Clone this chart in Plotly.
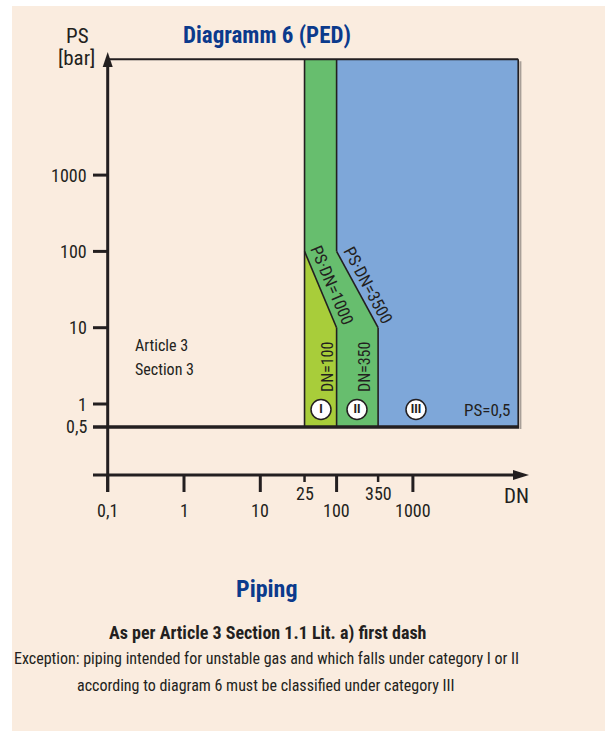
import numpy as np
import plotly.graph_objects as go

# ---------------- data ----------------
# DN axis (log scale). In the schematic the DN 25 limit is drawn off-scale, at about DN 38.
dn_tick_values = [0.1, 1, 10, 100, 1000]
dn_tick_labels = ["0,1", "1", "10", "100", "1000"]
dn_limit_values = [38, 350]          # drawn positions of the limits
dn_limit_labels = ["25", "350"]

ps_tick_values = [1, 10, 100, 1000]
ps_tick_labels = ["1", "10", "100", "1000"]
ps_min = 0.5
ps_min_label = "0,5"

dn_cat_left = 38      # limit labelled DN 25
dn_cat_I_II = 100     # DN = 100
dn_cat_II_III = 350   # DN = 350
dn_right = 24000      # right edge of the diagram
ps_top = 33000        # top edge of the diagram

# PS·DN boundary lines (DN, PS) as drawn
ps_dn_1000_dn = [38, 100]
ps_dn_1000_ps = [100, 10]
ps_dn_3500_dn = [100, 350]
ps_dn_3500_ps = [100, 10]

# ---------------- styling / geometry helpers ----------------
W, H = 605, 731
X0PX, DEC = 107.7, 76.3     # pixel of DN=0.1, pixels per decade
Y0PX = 404.0                # pixel of PS=1

def lx(p):   # pixel x -> log10 DN
    return (p - X0PX) / DEC - 1

def ly(p):   # pixel y -> log10 PS
    return (Y0PX - p) / DEC

L = np.log10
BEIGE = "#FAECDF"
BLUE = "#7EA7D9"
GREEN = "#67BE6E"
YELLOW = "#A8CD3A"
INK = "#231F20"
NAVY = "#0B3A8C"
FONT = "Liberation Sans Narrow, Roboto Condensed, DejaVu Sans Condensed, Arial Narrow, sans-serif"

A, B, C = L(dn_cat_left), L(dn_cat_I_II), L(dn_cat_II_III)
R, T, M = L(dn_right), L(ps_top), L(ps_min)
p1000 = L(np.array(ps_dn_1000_ps))
d1000 = L(np.array(ps_dn_1000_dn))
p3500 = L(np.array(ps_dn_3500_ps))
d3500 = L(np.array(ps_dn_3500_dn))

fig = go.Figure()

# Category III (blue)
fig.add_trace(go.Scatter(
    x=[B, R, R, C, d3500[1], d3500[0], B],
    y=[T, T, M, M, p3500[1], p3500[0], T],
    fill="toself", fillcolor=BLUE, mode="none", hoverinfo="skip"))
# Category II (green)
fig.add_trace(go.Scatter(
    x=[A, B, d3500[0], d3500[1], C, B, d1000[1], d1000[0], A],
    y=[T, T, p3500[0], p3500[1], M, M, p1000[1], p1000[0], T],
    fill="toself", fillcolor=GREEN, mode="none", hoverinfo="skip"))
# Category I (yellow-green)
fig.add_trace(go.Scatter(
    x=[d1000[0], d1000[1], B, A, d1000[0]],
    y=[p1000[0], p1000[1], M, M, p1000[0]],
    fill="toself", fillcolor=YELLOW, mode="none", hoverinfo="skip"))

def seg(x0, y0, x1, y1, w, color=INK):
    fig.add_shape(type="line", x0=x0, y0=y0, x1=x1, y1=y1, xref="x", yref="y",
                  line=dict(color=color, width=w))

# shadow of the blue box
seg(R + 2.2 / DEC, T - 2 / DEC, R + 2.2 / DEC, M - 2 / DEC, 2, "#A89F98")
# outlines
seg(lx(X0PX), T, R, T, 2.2)
seg(R, T, R, M, 1.6)
seg(A, T, A, M, 1.6)
seg(B, T, B, p3500[0], 1.6)
seg(B, p1000[1], B, M, 1.6)
seg(C, p3500[1], C, M, 1.6)
seg(d1000[0], p1000[0], d1000[1], p1000[1], 1.6)
seg(d3500[0], p3500[0], d3500[1], p3500[1], 1.6)
seg(lx(93), M, R + 0.8 / DEC, M, 3.5)

# axes
x_axis_y = ly(475)
seg(lx(X0PX), ly(492), lx(X0PX), ly(64), 3)
seg(lx(93), x_axis_y, lx(516), x_axis_y, 3)
# arrowheads
fig.add_shape(type="path", xref="x", yref="y", fillcolor=INK, line=dict(width=0),
              path=f"M {lx(X0PX)} {ly(52)} L {lx(X0PX-5)} {ly(67)} L {lx(X0PX+5)} {ly(67)} Z")
fig.add_shape(type="path", xref="x", yref="y", fillcolor=INK, line=dict(width=0),
              path=f"M {lx(529)} {x_axis_y} L {lx(513)} {ly(470)} L {lx(513)} {ly(480)} Z")

# y ticks and labels
for v, lab in zip(ps_tick_values, ps_tick_labels):
    seg(lx(93), L(v), lx(X0PX), L(v), 3)
    fig.add_annotation(x=lx(89), y=L(v), text=lab, showarrow=False, xanchor="right",
                       yanchor="middle", font=dict(family=FONT, size=18, color=INK))
fig.add_annotation(x=lx(89), y=M, text=ps_min_label, showarrow=False, xanchor="right",
                   yanchor="middle", font=dict(family=FONT, size=18, color=INK))

# x ticks and labels
for v, lab in zip(dn_tick_values, dn_tick_labels):
    seg(L(v), x_axis_y, L(v), ly(492), 3)
    fig.add_annotation(x=L(v), y=ly(510), text=lab, showarrow=False, xanchor="center",
                       yanchor="middle", font=dict(family=FONT, size=18, color=INK))
for v, lab in zip(dn_limit_values, dn_limit_labels):
    seg(L(v), x_axis_y, L(v), ly(482), 2.5)
    fig.add_annotation(x=L(v), y=ly(493), text=lab, showarrow=False, xanchor="center",
                       yanchor="middle", font=dict(family=FONT, size=18, color=INK))

def txt(px, py, text, size, color=INK, bold=False, angle=0, xanchor="center"):
    if bold:
        text = f"<b>{text}</b>"
    fig.add_annotation(x=lx(px), y=ly(py), text=text, showarrow=False, textangle=angle,
                       xanchor=xanchor, yanchor="middle",
                       font=dict(family=FONT, size=size, color=color))

# axis titles
txt(77, 36, "PS", 21)
txt(76, 58, "[bar]", 21)
txt(516, 496, "DN", 21)

# title
txt(267, 35, "Diagramm 6 (PED)", 23, NAVY, bold=True)

# region texts
txt(133, 345, "Article 3", 16, xanchor="left")
txt(133, 369, "Section 3", 16, xanchor="left")
txt(332, 285, "PS·DN=1000", 17, angle=67)
txt(368, 285, "PS·DN=3500", 17, angle=62)
txt(327, 367, "DN=100", 16, angle=-90)
txt(364, 367, "DN=350", 16, angle=-90)
txt(487, 410, "PS=0,5", 17)

# category circles
cat_labels = ["I", "II", "III"]
cat_px = [321, 357, 416]
fig.add_trace(go.Scatter(
    x=[lx(p) for p in cat_px], y=[ly(409.5)] * 3, mode="markers+text",
    text=[f"<b>{c}</b>" for c in cat_labels], textposition="middle center",
    textfont=dict(family=FONT, size=13, color=INK),
    marker=dict(size=20, color="white", line=dict(color=INK, width=1.5)),
    hoverinfo="skip"))

# bottom texts
txt(267, 589, "Piping", 24, NAVY, bold=True)
txt(267, 633, "As per Article 3 Section 1.1 Lit. a) first dash", 18, bold=True)
txt(266, 658, "Exception: piping intended for unstable gas and which falls under category I or II", 16)
txt(266, 685, "according to diagram 6 must be classified under category III", 16)

# beige panel
fig.add_shape(type="rect", xref="paper", yref="paper", x0=12 / W, x1=1, y0=0, y1=1 - 6 / H,
              fillcolor=BEIGE, line=dict(width=0), layer="below")

fig.update_layout(
    width=W, height=H, margin=dict(l=0, r=0, t=0, b=0, autoexpand=False),
    paper_bgcolor="white", plot_bgcolor="rgba(0,0,0,0)", showlegend=False,
    xaxis=dict(range=[lx(0), lx(W)], visible=False, fixedrange=True),
    yaxis=dict(range=[ly(H), ly(0)], visible=False, fixedrange=True),
)

fig.write_html("out.html", config={"displayModeBar": False},
               post_script="document.body.style.margin='0';")
